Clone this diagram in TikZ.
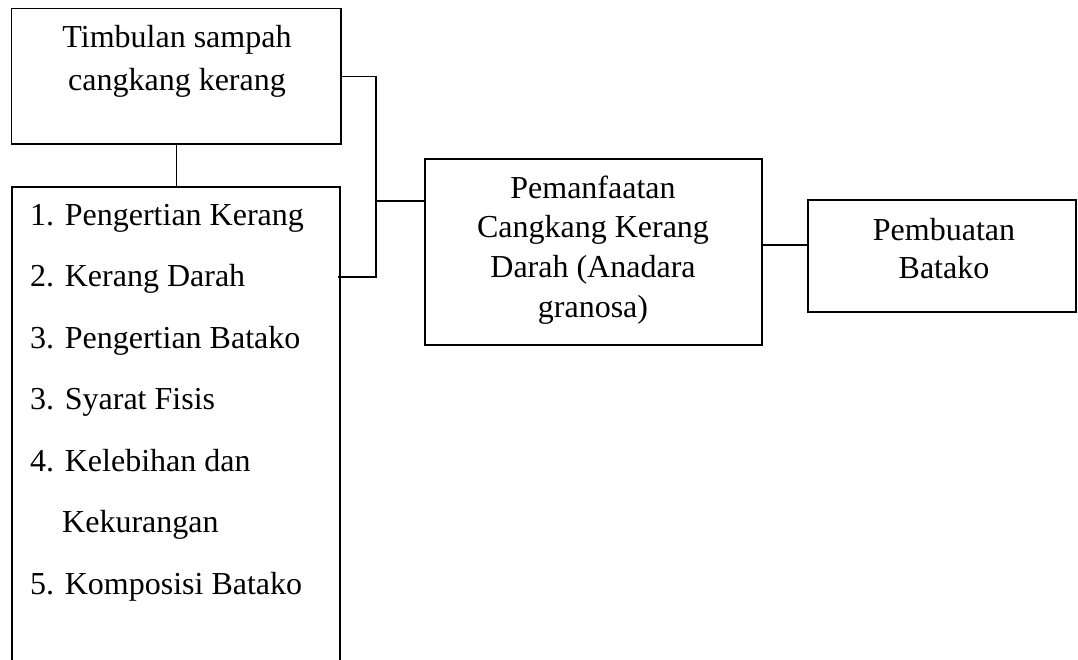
\documentclass[tikz,border=0pt]{standalone}
\usepackage{fontspec}
\setmainfont{Liberation Serif}
\begin{document}
\begin{tikzpicture}[x=1pt,y=-1pt,
  box/.style={draw, line width=1.6pt, inner sep=0pt},
  conn/.style={line width=1.1pt},
  txt/.style={inner sep=0pt, font=\fontsize{32}{38}\selectfont}]
\useasboundingbox (0,0) rectangle (1078,659);
% boxes
\node[box, minimum width=329.5pt, minimum height=135.5pt] (b1) at (176.25,76.25) {};
\coordinate (b2sw) at (12,664);
\coordinate (b2nw) at (12,187);
\coordinate (b2ne) at (340,187);
\coordinate (b2se) at (340,664);
\draw[line width=1.6pt] (b2sw) -- (b2nw) -- (b2ne) -- (b2se);
\node[box, minimum width=337pt, minimum height=186pt] (b3) at (593.5,252) {};
\node[box, minimum width=268pt, minimum height=112pt] (b4) at (942,256) {};
% text
\node[txt, anchor=base] (t1a) at (177,47) {Timbulan sampah};
\node[txt, anchor=base] (t1b) at (177,90) {cangkang kerang};
\node[txt, anchor=base west] (l1) at (30,225) {1. Pengertian Kerang};
\node[txt, anchor=base west] (l2) at (30,286.5) {2. Kerang Darah};
\node[txt, anchor=base west] (l3) at (30,348) {3. Pengertian Batako};
\node[txt, anchor=base west] (l4) at (30,409.5) {3. Syarat Fisis};
\node[txt, anchor=base west] (l5) at (30,471) {4. Kelebihan dan};
\node[txt, anchor=base west] (l5b) at (62,532) {Kekurangan};
\node[txt, anchor=base west] (l6) at (30,594.5) {5. Komposisi Batako};
\node[txt, anchor=base] (t3a) at (593,198) {Pemanfaatan};
\node[txt, anchor=base] (t3b) at (593,237) {Cangkang Kerang};
\node[txt, anchor=base] (t3c) at (593,277) {Darah (Anadara};
\node[txt, anchor=base] (t3d) at (593,317) {granosa)};
\node[txt, anchor=base] (t4a) at (944,240) {Pembuatan};
\node[txt, anchor=base] (t4b) at (944,278) {Batako};
% connectors
\coordinate (j) at (376,201);
\coordinate (b2e) at (338,277);
\draw[conn] (b1.south) -- (b1.south |- b2nw);
\draw[conn] (b1.east) -| (j) |- (b2e);
\draw[conn] (j) -- (j -| b3.west);
\draw[conn] (b3.east |- 0,245) -- (b4.west |- 0,245);
\end{tikzpicture}
\end{document}
